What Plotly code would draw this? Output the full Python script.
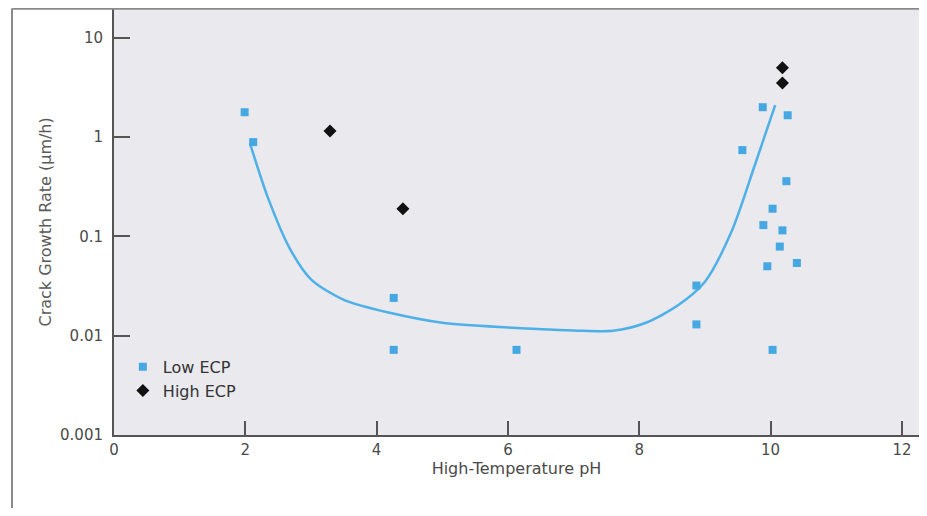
import plotly.graph_objects as go

# Low ECP data (squares)
low_ph = [1.99, 2.12, 4.26, 4.26, 6.13, 8.87, 8.87, 10.03, 9.88, 10.26, 9.57, 10.24, 10.03, 9.89, 10.18, 10.14, 9.95, 10.40]
low_rate = [1.78, 0.89, 0.024, 0.0072, 0.0072, 0.032, 0.013, 0.0072, 2.0, 1.66, 0.74, 0.36, 0.19, 0.13, 0.115, 0.079, 0.050, 0.054]

# High ECP data (diamonds)
high_ph = [3.29, 4.40, 10.18, 10.18]
high_rate = [1.15, 0.19, 5.0, 3.5]

# Trend curve
curve_ph = [2.07, 2.35, 2.68, 3.0, 3.5, 4.2, 5.0, 6.0, 7.0, 7.6, 8.1, 8.6, 9.0, 9.4, 9.75, 10.07]
curve_rate = [0.87, 0.24, 0.075, 0.037, 0.023, 0.017, 0.0135, 0.0121, 0.0113, 0.0112, 0.0135, 0.0205, 0.035, 0.11, 0.5, 2.1]

x_ticks = [0, 2, 4, 6, 8, 10, 12]
y_ticks = [0.001, 0.01, 0.1, 1, 10]
y_ticktext = ["0.001", "0.01", "0.1", "1", "10"]

blue = "#45a8e2"
font_family = "DejaVu Sans, Verdana, sans-serif"

fig = go.Figure()
fig.add_trace(go.Scatter(x=curve_ph, y=curve_rate, mode="lines",
                         line=dict(color="#4eb0e8", width=2.5, shape="spline", smoothing=0.8),
                         showlegend=False, hoverinfo="skip"))
fig.add_trace(go.Scatter(x=low_ph, y=low_rate, mode="markers", name="Low ECP",
                         marker=dict(symbol="square", size=8, color=blue)))
fig.add_trace(go.Scatter(x=high_ph, y=high_rate, mode="markers", name="High ECP",
                         marker=dict(symbol="diamond", size=10, color="#111111")))

frame_color = "#8a8a8a"
fig.update_layout(
    width=911, height=500,
    margin=dict(l=106, r=0, t=1, b=73),
    paper_bgcolor="white",
    plot_bgcolor="#e9e9ee",
    font=dict(family=font_family, size=15, color="#4a4a4a"),
    xaxis=dict(range=[0, 12.26], tickvals=x_ticks, ticks="inside", ticklen=14,
               tickcolor="#555", tickwidth=1.5, showgrid=False, zeroline=False,
               showline=True, linecolor="#555", linewidth=2,
               tickfont=dict(size=15),
               title=dict(text="High-Temperature pH", font=dict(size=16, color="#4a4a4a"), standoff=4)),
    yaxis=dict(type="log", range=[-3, 1.29], tickvals=y_ticks, ticktext=y_ticktext,
               ticks="inside", ticklen=16, tickcolor="#555", tickwidth=1.5,
               ticklabelstandoff=6, tickfont=dict(size=15),
               showgrid=False, zeroline=False, showline=True, linecolor="#555", linewidth=2),
    legend=dict(x=0.011, y=0.2, xanchor="left", yanchor="top",
                bgcolor="rgba(0,0,0,0)", font=dict(size=16, color="#333"),
                itemwidth=30, tracegroupgap=0),
    showlegend=True,
    annotations=[dict(text="Crack Growth Rate (µm/h)", textangle=-90,
                      xref="paper", yref="paper", x=-0.1006, y=0.5,
                      showarrow=False, font=dict(size=16, color="#5a5a5a"))],
    shapes=[
        dict(type="line", xref="paper", yref="paper", x0=-0.1267, x1=1.01, y0=1.001, y1=1.001,
             line=dict(color=frame_color, width=2.5)),
        dict(type="line", xref="paper", yref="paper", x0=-0.1267, x1=-0.1267, y0=-0.2, y1=1.001,
             line=dict(color=frame_color, width=2)),
    ],
)

fig.write_html("out.html")
